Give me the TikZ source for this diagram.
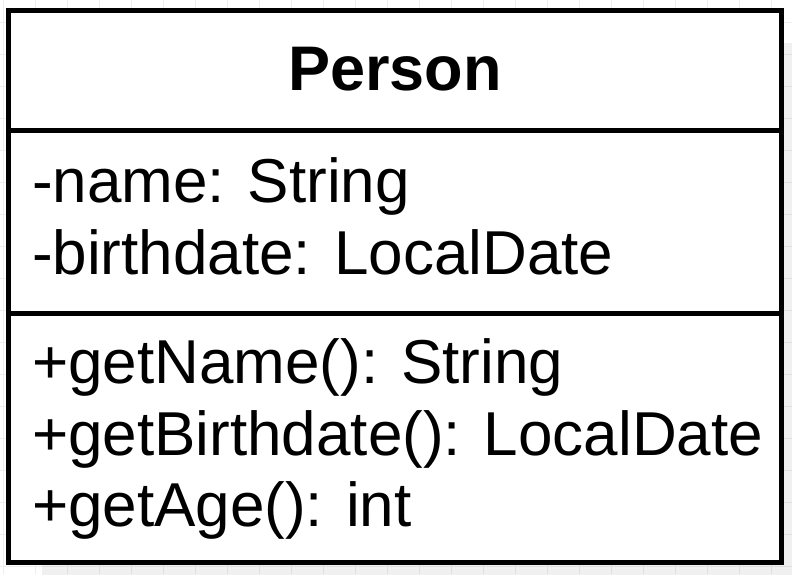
\documentclass[tikz,border=0pt]{standalone}
\usepackage{fontspec}
\setmainfont{Liberation Sans}
\begin{document}
\begin{tikzpicture}[x=1pt,y=-1pt,
  umltext/.style={inner sep=0pt, outer sep=0pt, font=\fontsize{62}{72}\selectfont, anchor=base west},
  umltitle/.style={inner sep=0pt, outer sep=0pt, font=\fontsize{63}{72}\selectfont\bfseries, anchor=base},
  border/.style={line width=5pt, draw=black}]
\useasboundingbox (0,0) rectangle (792,574);
\fill[white] (0,0) rectangle (792,574);
% grid
\foreach \gx in {3,35,...,792} \draw[line width=1pt, color=black!7] (\gx,0) -- (\gx,574);
\foreach \gy in {22,54,...,574} \draw[line width=1pt, color=black!7] (0,\gy) -- (792,\gy);
% shadow
\fill[black, opacity=0.06] (42,43) rectangle (820,600);
% class box
\node[border, fill=white, minimum width=773pt, minimum height=552pt, inner sep=0pt, outer sep=0pt, anchor=north west] (cls) at (8.5,10.5) {};
\coordinate (d1w) at (8.5,130.5);
\coordinate (d1e) at (781.5,130.5);
\coordinate (d2w) at (8.5,313.5);
\coordinate (d2e) at (781.5,313.5);
\draw[border] (d1w) -- (d1e);
\draw[border] (d2w) -- (d2e);
\node[umltitle] (title) at (395,90) {Person};
\node[umltext] (a1) at (32,202) {-name: String};
\node[umltext] (a2) at (32,274) {-birthdate: LocalDate};
\node[umltext] (m1) at (32,383) {+getName(): String};
\node[umltext] (m2) at (32,455) {+getBirthdate(): LocalDate};
\node[umltext] (m3) at (32,526) {+getAge(): int};
\end{tikzpicture}
\end{document}
